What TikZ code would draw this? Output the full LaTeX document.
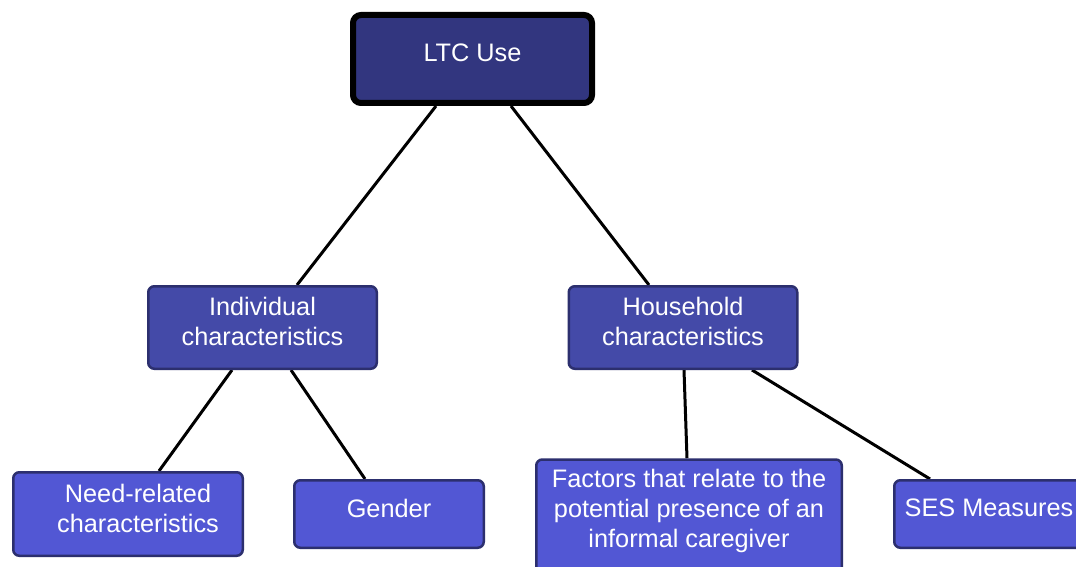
\documentclass[tikz,border=0pt]{standalone}
\usepackage{fontspec}
\setmainfont{Liberation Sans}
\usetikzlibrary{backgrounds}
\definecolor{topfill}{HTML}{32367F}
\definecolor{midfill}{HTML}{444AA8}
\definecolor{botfill}{HTML}{5257D4}
\definecolor{edgeblue}{HTML}{2C2F6E}
\newcommand{\dpfix}{\rule[-12pt]{0pt}{12pt}}
\tikzset{
  box/.style={rectangle, rounded corners=6pt, draw=edgeblue, line width=2.5pt,
    text=white, align=center, inner sep=0pt,
    font=\fontsize{25.3}{30}\selectfont},
  topbox/.style={box, draw=black, line width=6pt, rounded corners=8pt, fill=topfill},
  midbox/.style={box, fill=midfill},
  botbox/.style={box, fill=botfill},
  plaintext/.style={text=white, align=center, inner sep=0pt,
    font=\fontsize{25.3}{30}\selectfont},
  conn/.style={draw=black, line width=3pt}
}
\begin{document}
\begin{tikzpicture}[x=1pt,y=-1pt]
\useasboundingbox (0,0) rectangle (1076,567);
\clip (0,0) rectangle (1076,567);

\node[topbox, minimum width=239, minimum height=88] (ltc) at (472.5,59) {LTC Use\dpfix};

\node[midbox, minimum width=228.5, minimum height=82.5] (ind) at (262.5,327.5)
  {Individual\\characteristics\dpfix};
\node[midbox, minimum width=228.5, minimum height=82.5] (hh) at (683,327.5)
  {Household\\characteristics\dpfix};

\node[botbox, minimum width=229.5, minimum height=83.5] (need) at (128,514)
  {\hspace*{20pt}Need-related\\\hspace*{20pt}characteristics\dpfix};
\node[botbox, minimum width=189.5, minimum height=67.5] (gen) at (389,514)
  {Gender\dpfix};
\node[botbox, anchor=north, minimum width=305.5, minimum height=130] (fac) at (689,458.25) {};
\node[plaintext, anchor=north] (factxt) at (689,469)
  {Factors that relate to the\\potential presence of an\\informal caregiver};
\node[botbox, minimum width=189.5, minimum height=67.5] (ses) at (989,514)
  {SES Measures\dpfix};

\begin{scope}[on background layer]
\fill[white] (0,0) rectangle (1076,567);
\draw[conn] ([xshift=-36.5pt]ltc.south) -- ([xshift=34.5pt]ind.north);
\draw[conn] ([xshift=38.5pt]ltc.south) -- ([xshift=-34pt]hh.north);
\draw[conn] ([xshift=-30.5pt]ind.south) -- ([xshift=31pt]need.north);
\draw[conn] ([xshift=28.5pt]ind.south) -- ([xshift=-24pt]gen.north);
\draw[conn] ([xshift=1pt]hh.south) -- ([xshift=-2pt]fac.north);
\draw[conn] ([xshift=69pt]hh.south) -- ([xshift=-59pt]ses.north);
\end{scope}
\end{tikzpicture}
\end{document}
